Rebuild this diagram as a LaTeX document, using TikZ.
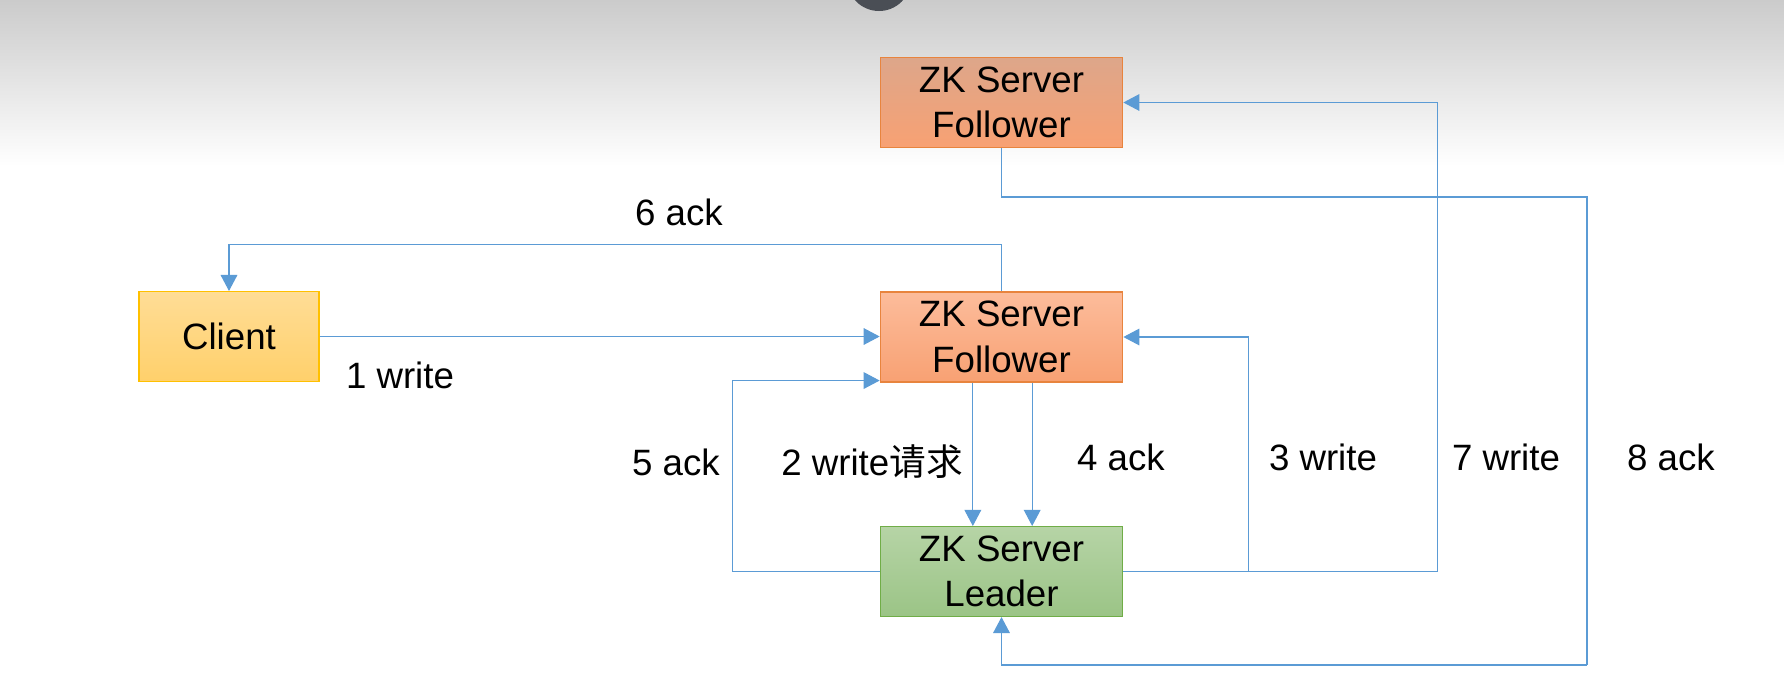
\documentclass[tikz,border=0pt]{standalone}
\usepackage{fontspec}
\setmainfont{Liberation Sans}
\newfontfamily\cjk{Noto Sans CJK SC}
\usetikzlibrary{arrows.meta}
\definecolor{linkblue}{HTML}{5B9BD5}
\definecolor{knob}{HTML}{4A4E55}
\definecolor{topgray}{HTML}{CBCBCB}
\definecolor{followeredge}{HTML}{E8843E}
\definecolor{topfollowerhi}{HTML}{DDA68A}
\definecolor{followerhi}{HTML}{FCBC9B}
\definecolor{followerlo}{HTML}{F8A173}
\definecolor{clientedge}{HTML}{FFC000}
\definecolor{clienthi}{HTML}{FFDD96}
\definecolor{clientlo}{HTML}{FFD06B}
\definecolor{leaderedge}{HTML}{70AD47}
\definecolor{leaderhi}{HTML}{B6D4A6}
\definecolor{leaderlo}{HTML}{9BC486}

\begin{document}
\begin{tikzpicture}[x=0.75pt,y=-0.75pt,
    box/.style={line width=0.8pt,minimum width=182pt,minimum height=67.5pt,
      inner sep=0pt,align=center,font=\fontsize{27.5}{34}\selectfont},
    follower/.style={box,draw=followeredge,top color=#1,bottom color=followerlo},
    link/.style={draw=linkblue,line width=0.8pt,-{Triangle[length=12pt,width=12.5pt]}},
    plain/.style={draw=linkblue,line width=0.8pt},
    lbl/.style={anchor=base,inner sep=0pt,font=\fontsize{27.5}{33}\selectfont}]
  \useasboundingbox (0,0) rectangle (1784,690);
  \fill[white] (0,0) rectangle (1784,690);
  \shade[top color=topgray,bottom color=white] (0,0) rectangle (1784,166);
  \begin{scope}
    \clip (0,0) rectangle (1784,690);
    \fill[knob] (879,-21) circle[radius=24pt];
  \end{scope}

  % boxes
  \node[follower=topfollowerhi] (fTop) at (1001.5,102.5) {ZK Server\\Follower};
  \node[follower=followerhi] (fMid) at (1001.5,337) {ZK Server\\Follower};
  \node[box,draw=clientedge,top color=clienthi,bottom color=clientlo,minimum width=135pt]
    (client) at (229,336.5) {Client};
  \node[box,draw=leaderedge,top color=leaderhi,bottom color=leaderlo] (leader) at (1001.5,571.5) {ZK Server\\Leader};

  % connectors
  \draw[link] (client.east) -- (client.east -| fMid.west);
  \draw[link] (fMid.north) -- ++(0,-47) -| (client.north);
  \draw[link] ([xshift=-21.5pt]fMid.south) -- ([xshift=-21.5pt]leader.north);
  \draw[link] ([xshift=23pt]fMid.south) -- ([xshift=23pt]leader.north);
  \draw[link] (leader.west) -- ++(-147,0) |- ([yshift=1.5pt]fMid.south west);
  \draw[link] (leader.east) -- ++(125,0) |- (fMid.east);
  \draw[link] (leader.east) -- ++(314,0) |- (fTop.east);
  \coordinate (r8) at (1587,197);
  \coordinate (b8) at (1587,665);
  \draw[plain] (fTop.south) |- (r8) -- (b8);
  \draw[link] (b8) -| (leader.south);

  % labels
  \node[lbl] (l1) at (400,388) {1 write};
  \node[lbl] (l6) at (679,225) {6 ack};
  \node[lbl] (l5) at (676,475) {5 ack};
  \node[lbl] (l2) at (872,475) {2 write{\cjk 请求}};
  \node[lbl] (l4) at (1121,470) {4 ack};
  \node[lbl] (l3) at (1323,470) {3 write};
  \node[lbl] (l7) at (1506,470) {7 write};
  \node[lbl] (l8) at (1671,470) {8 ack};
\end{tikzpicture}
\end{document}
